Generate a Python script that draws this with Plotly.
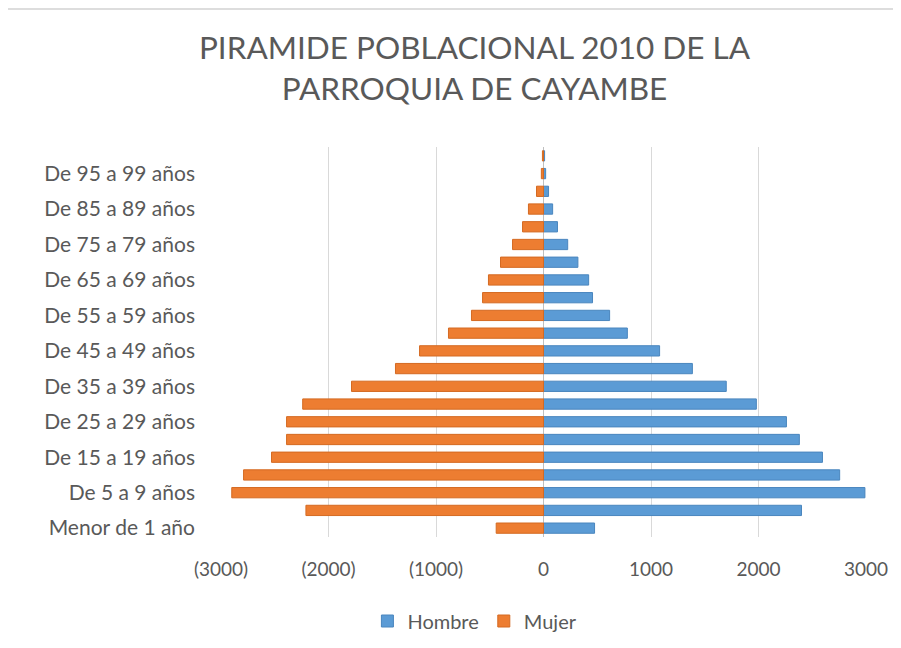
import plotly.graph_objects as go

categorias = ["Menor de 1 año", "De 1 a 4 años", "De 5 a 9 años", "De 10 a 14 años",
              "De 15 a 19 años", "De 20 a 24 años", "De 25 a 29 años", "De 30 a 34 años",
              "De 35 a 39 años", "De 40 a 44 años", "De 45 a 49 años", "De 50 a 54 años",
              "De 55 a 59 años", "De 60 a 64 años", "De 65 a 69 años", "De 70 a 74 años",
              "De 75 a 79 años", "De 80 a 84 años", "De 85 a 89 años", "De 90 a 94 años",
              "De 95 a 99 años", "De 100 años y más"]
hombre = [475, 2400, 2990, 2755, 2595, 2380, 2260, 1980, 1700, 1385, 1080, 780,
          615, 456, 420, 320, 225, 130, 85, 47, 20, 10]
mujer = [440, 2210, 2900, 2790, 2530, 2390, 2390, 2240, 1786, 1377, 1153, 884,
         670, 567, 512, 400, 288, 195, 140, 65, 20, 10]

x_ticks = [-3000, -2000, -1000, 0, 1000, 2000, 3000]
x_text = ["(3000)", "(2000)", "(1000)", "0", "1000", "2000", "3000"]

gray = "#595959"
font_family = "Lato, 'Open Sans', sans-serif"

fig = go.Figure()
fig.add_trace(go.Bar(y=categorias, x=hombre, orientation="h", name="Hombre",
                     marker=dict(color="#5B9BD5", line=dict(color="#4A86BE", width=1))))
fig.add_trace(go.Bar(y=categorias, x=[-v for v in mujer], orientation="h", name="Mujer",
                     marker=dict(color="#ED7D31", line=dict(color="#D46A22", width=1))))

fig.update_layout(
    width=893, height=640,
    paper_bgcolor="white", plot_bgcolor="white",
    barmode="relative", bargap=0.42,
    margin=dict(l=213, r=35, t=139, b=111, autoexpand=False),
    font=dict(family=font_family, color=gray, size=20),
    title=dict(text="PIRAMIDE POBLACIONAL 2010 DE LA<br>PARROQUIA DE CAYAMBE",
               x=0.5224, xanchor="center", y=0.92, yanchor="middle",
               font=dict(size=31.5, color=gray)),
    xaxis=dict(range=[-3000, 3000], tickvals=x_ticks, ticktext=x_text,
               showgrid=True, gridcolor="#D9D9D9", gridwidth=1,
               zeroline=True, zerolinecolor="#BFBFBF", zerolinewidth=1,
               ticks="", tickfont=dict(size=19, color=gray),
               ticklabelstandoff=19),
    yaxis=dict(type="category", categoryorder="array", categoryarray=categorias,
               tickvals=categorias[::2], ticktext=categorias[::2],
               ticks="", showgrid=False, tickfont=dict(size=21, color=gray),
               ticklabelstandoff=25),
    legend=dict(orientation="h", x=0.227, xanchor="left", y=-0.2154, yanchor="middle",
                font=dict(size=20, color=gray), itemwidth=30),
    showlegend=True,
)
fig.add_shape(type="line", xref="paper", yref="paper", x0=-0.34, x1=1.1, y0=1.354, y1=1.354,
              line=dict(color="#DDDDDD", width=2))

fig.write_html("out.html")
